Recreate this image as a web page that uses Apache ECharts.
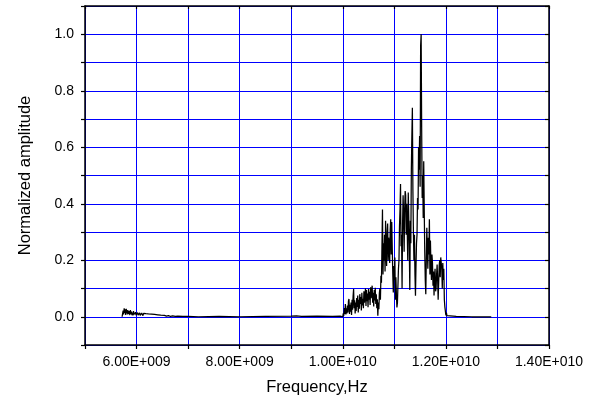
<!DOCTYPE html>
<html>
<head>
<meta charset="utf-8">
<script src="https://cdn.jsdelivr.net/npm/echarts@6/dist/echarts.min.js"></script>
<style>
html,body{margin:0;padding:0;background:#fff;}
#chart{width:592px;height:401px;}
</style>
</head>
<body>
<div id="chart"></div>
<script>
// Frequency in GHz, normalized amplitude
const lowBand = [
  [5.72,0.000],[5.73,0.012],[5.74,0.022],[5.75,0.008],[5.76,0.030],[5.77,0.014],[5.78,0.026],[5.79,0.006],
  [5.80,0.028],[5.81,0.012],[5.82,0.024],[5.83,0.008],[5.84,0.022],[5.85,0.010],[5.86,0.020],[5.87,0.006],
  [5.88,0.024],[5.89,0.010],[5.90,0.018],[5.91,0.006],[5.92,0.015],[5.93,0.005],[5.94,0.020],[5.95,0.008],
  [5.96,0.014],[5.97,0.004],[5.98,0.016],[5.99,0.006],[6.00,0.013],[6.01,0.005],[6.02,0.015],[6.03,0.006],
  [6.04,0.012],[6.05,0.004],[6.06,0.014],[6.07,0.005],[6.08,0.011],[6.09,0.004],[6.10,0.013],[6.12,0.004],
  [6.14,0.012],[6.16,0.005],[6.18,0.011],[6.20,0.004],[6.23,0.010],[6.26,0.004],[6.29,0.009],[6.32,0.003],
  [6.35,0.008],[6.38,0.003],[6.41,0.007],[6.44,0.002],[6.47,0.006],[6.50,0.002],[6.54,0.005],[6.58,0.002],
  [6.62,0.004],[6.66,0.001],[6.70,0.003],[6.75,0.001],[6.80,0.002],[6.90,0.001],[7.00,0.001]
];
const quietBand = [
  [7.20,0.000],[7.60,0.001],[8.00,0.000],[8.50,0.001],[9.00,0.002],[9.10,0.003],[9.20,0.001],[9.50,0.002],
  [9.80,0.001],[9.95,0.002]
];
const riseBand = [
  [10.00,0.000],[10.01,0.012],[10.02,0.004],[10.03,0.031],[10.04,0.010],[10.05,0.045],[10.06,0.008],[10.07,0.030],
  [10.08,0.012],[10.09,0.040],[10.10,0.015],[10.11,0.055],[10.12,0.063],[10.13,0.010],[10.14,0.042],[10.15,0.018],
  [10.16,0.050],[10.17,0.006],[10.18,0.060],[10.19,0.025],[10.20,0.072],[10.21,0.098],[10.22,0.030],[10.23,0.058],
  [10.24,0.012],[10.25,0.050],[10.26,0.020],[10.27,0.066],[10.28,0.035],[10.29,0.075],[10.30,0.015],[10.31,0.060],
  [10.32,0.028],[10.33,0.080],[10.34,0.045],[10.35,0.070],[10.36,0.022],[10.37,0.085],[10.38,0.040],[10.39,0.064],
  [10.40,0.030],[10.41,0.090],[10.42,0.050],[10.43,0.072],[10.44,0.100],[10.45,0.038],[10.46,0.095],[10.47,0.055],
  [10.48,0.082],[10.49,0.034],[10.50,0.098],[10.51,0.060],[10.52,0.088],[10.53,0.042],[10.54,0.104],[10.55,0.066],
  [10.56,0.090],[10.57,0.110],[10.58,0.050],[10.59,0.085],[10.60,0.036],[10.61,0.095],[10.62,0.058],[10.63,0.103],
  [10.64,0.045],[10.65,0.080],[10.66,0.030],[10.67,0.062],[10.68,0.004],[10.69,0.050],[10.70,0.027],[10.71,0.085]
];
const mainBand = [
  [10.72,0.100],[10.73,0.060],[10.74,0.145],[10.75,0.120],[10.76,0.250],[10.77,0.380],[10.78,0.150],[10.79,0.260],
  [10.80,0.200],[10.81,0.290],[10.82,0.160],[10.83,0.340],[10.84,0.230],[10.85,0.180],[10.86,0.300],[10.87,0.330],
  [10.88,0.200],[10.89,0.280],[10.90,0.250],[10.91,0.190],[10.92,0.310],[10.93,0.345],[10.94,0.220],[10.95,0.335],
  [10.96,0.240],[10.97,0.150],[10.98,0.086],[10.99,0.180],[11.00,0.130],[11.01,0.210],[11.02,0.060],[11.03,0.140],
  [11.04,0.080],[11.05,0.033],[11.06,0.050],[11.07,0.110],[11.08,0.170],[11.09,0.200],[11.10,0.320],[11.11,0.380],
  [11.12,0.470],[11.13,0.250],[11.14,0.290],[11.15,0.100],[11.16,0.330],[11.17,0.430],[11.18,0.360],[11.19,0.230],
  [11.20,0.380],[11.21,0.445],[11.22,0.430],[11.23,0.290],[11.24,0.400],[11.25,0.310],[11.26,0.200],[11.27,0.440],
  [11.28,0.350],[11.29,0.250],[11.30,0.095],[11.31,0.340],[11.32,0.260],[11.33,0.520],[11.34,0.640],[11.35,0.740],
  [11.36,0.450],[11.37,0.300],[11.38,0.200],[11.39,0.290],[11.40,0.150],[11.41,0.074],[11.42,0.180],[11.43,0.260],
  [11.44,0.290],[11.45,0.420],[11.46,0.380],[11.47,0.600],[11.48,0.520],[11.49,0.640],[11.50,0.460],[11.51,0.960],
  [11.52,1.000],[11.53,0.670],[11.54,0.420],[11.55,0.500],[11.56,0.350],[11.57,0.550],[11.58,0.380],[11.59,0.230],
  [11.60,0.130],[11.61,0.080],[11.62,0.200],[11.63,0.315],[11.64,0.240],[11.65,0.170],[11.66,0.280],[11.67,0.220],
  [11.68,0.345],[11.69,0.150],[11.70,0.270],[11.71,0.180],[11.72,0.130],[11.73,0.220],[11.74,0.190],[11.75,0.110],
  [11.76,0.160],[11.77,0.075],[11.78,0.140],[11.79,0.170],[11.80,0.090],[11.81,0.100],[11.82,0.150],[11.83,0.185],
  [11.84,0.130],[11.85,0.060],[11.86,0.120],[11.87,0.180],[11.88,0.200],[11.89,0.140],[11.90,0.210],[11.91,0.190],
  [11.92,0.170],[11.93,0.100],[11.94,0.190],[11.95,0.130],[11.96,0.170],[11.97,0.060],[11.98,0.035],[11.99,0.020],
  [12.00,0.005],[12.01,0.015],[12.02,0.004],[12.03,0.002]
];
const tailBand = [
  [12.05,0.001],[12.20,0.001],[12.50,0.000],[12.88,0.000]
];
const xTickLabels = ['6.00E+009','8.00E+009','1.00E+010','1.20E+010','1.40E+010'];
const yTickLabels = ['0.0','0.2','0.4','0.6','0.8','1.0'];

const spectrum = [].concat(lowBand, quietBand, riseBand, mainBand, tailBand)
  .map(p => [p[0] * 1e9, p[1]]);

function xLabel(v) {
  const k = Math.round(v / 1e9);
  const idx = (k - 6) / 2;
  return (idx >= 0 && Number.isInteger(idx) && idx < xTickLabels.length) ? xTickLabels[idx] : '';
}
function yLabel(v) {
  const k = Math.round(v * 10);
  const idx = k / 2;
  return (k >= 0 && Number.isInteger(idx) && idx < yTickLabels.length) ? yTickLabels[idx] : '';
}

const FONT = 'Liberation Sans, Arial, sans-serif';
const axisLineStyle = { color: '#000', width: 1.5 };
const chart = echarts.init(document.getElementById('chart'), null, { renderer: 'canvas' });
chart.setOption({
  animation: false,
  backgroundColor: '#fff',
  grid: { left: 85, right: 43, top: 6, bottom: 55, containLabel: false },
  xAxis: [{
    type: 'value', min: 5e9, max: 1.4e10, interval: 1e9, position: 'bottom',
    name: 'Frequency,Hz', nameLocation: 'middle', nameGap: 34,
    nameTextStyle: { fontFamily: FONT, fontSize: 16.5, color: '#000' },
    axisLine: { show: true, onZero: false, lineStyle: axisLineStyle },
    axisTick: { show: true, inside: false, length: 4, lineStyle: { color: '#000', width: 1.2 } },
    axisLabel: { formatter: xLabel, fontFamily: FONT, fontSize: 14, color: '#000', margin: 10, showMinLabel: true, showMaxLabel: true, hideOverlap: false },
    splitLine: { show: true, lineStyle: { color: '#0000ff', width: 1 } }
  }, {
    type: 'value', min: 5e9, max: 1.4e10, interval: 1e9, position: 'top',
    axisLine: { show: true, onZero: false, lineStyle: axisLineStyle },
    axisTick: { show: true, inside: true, length: 3, lineStyle: { color: '#000', width: 1.2 } },
    axisLabel: { show: false },
    splitLine: { show: false }
  }],
  yAxis: [{
    type: 'value', min: -0.1, max: 1.1, interval: 0.1, position: 'left',
    name: 'Normalized amplitude', nameLocation: 'middle', nameGap: 51, nameRotate: 90,
    nameTextStyle: { fontFamily: FONT, fontSize: 16.5, color: '#000' },
    axisLine: { show: true, onZero: false, lineStyle: axisLineStyle },
    axisTick: { show: true, inside: false, length: 4, lineStyle: { color: '#000', width: 1.2 } },
    axisLabel: { formatter: yLabel, fontFamily: FONT, fontSize: 14, color: '#000', margin: 11, showMinLabel: true, showMaxLabel: true },
    splitLine: { show: true, lineStyle: { color: '#0000ff', width: 1 } }
  }, {
    type: 'value', min: -0.1, max: 1.1, interval: 0.1, position: 'right',
    axisLine: { show: true, onZero: false, lineStyle: axisLineStyle },
    axisTick: { show: true, inside: true, length: 4, lineStyle: { color: '#000', width: 1.2 } },
    axisLabel: { show: false },
    splitLine: { show: false }
  }],
  series: [{
    type: 'line',
    xAxisIndex: 0, yAxisIndex: 0,
    data: spectrum,
    showSymbol: false,
    symbol: 'none',
    clip: true,
    lineStyle: { color: '#000', width: 1.25 },
    z: 5
  }]
});
</script>
</body>
</html>
